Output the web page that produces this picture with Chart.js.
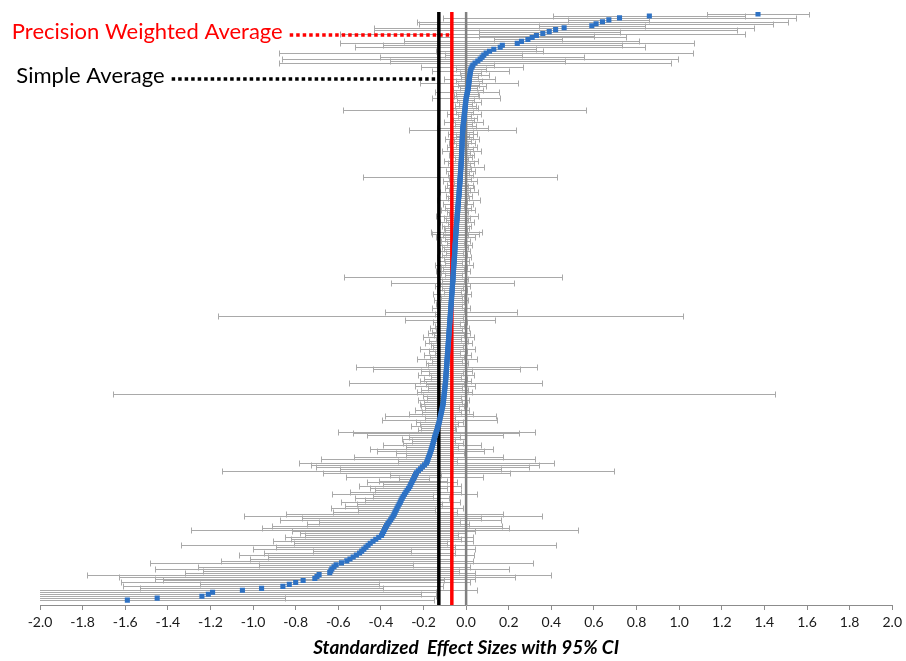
<!DOCTYPE html>
<html>
<head>
<meta charset="utf-8">
<script src="https://cdn.jsdelivr.net/npm/chart.js@4/dist/chart.umd.min.js"></script>
<style>
  html, body { margin: 0; padding: 0; background: #fff; }
  #wrap { width: 906px; height: 661px; position: relative; }
</style>
</head>
<body>
<div id="wrap"><canvas id="forest"></canvas></div>
<script>
// standardized effect sizes, sorted, top row first
const effect = [
  1.37, 0.86, 0.72, 0.67, 0.64, 0.61, 0.59, 0.46, 0.42, 0.39,
  0.36, 0.33, 0.31, 0.29, 0.26, 0.24, 0.17, 0.16, 0.13, 0.11,
  0.094, 0.083, 0.075, 0.066, 0.055, 0.042, 0.032, 0.028, 0.023, 0.020,
  0.019, 0.018, 0.016, 0.015, 0.014, 0.013, 0.012, 0.011, 0.010, 0.008,
  0.006, 0.004, 0.002,
  0.000, -0.001, -0.002, -0.003, -0.004, -0.005, -0.006, -0.007, -0.008, -0.009,
  -0.010, -0.011, -0.012, -0.013, -0.014, -0.015, -0.016,
  -0.016, -0.017, -0.017, -0.018, -0.018, -0.019, -0.019, -0.019, -0.020, -0.020,
  -0.021, -0.021, -0.021, -0.022, -0.022, -0.023, -0.023,
  -0.024, -0.024, -0.025, -0.026, -0.026, -0.027, -0.027, -0.028, -0.029, -0.029,
  -0.030, -0.031, -0.031, -0.032, -0.033, -0.033, -0.034,
  -0.035, -0.036, -0.036, -0.037, -0.038, -0.039, -0.039, -0.040, -0.041, -0.042,
  -0.042, -0.043, -0.044, -0.045, -0.045, -0.046, -0.047,
  -0.047, -0.048, -0.049, -0.049, -0.050, -0.050, -0.051, -0.052, -0.052, -0.053,
  -0.053, -0.054, -0.054, -0.055,
  -0.056, -0.056, -0.057, -0.058, -0.058, -0.059, -0.060, -0.060, -0.061, -0.061,
  -0.062, -0.062, -0.063,
  -0.064, -0.064, -0.065, -0.066, -0.066, -0.067, -0.068, -0.068, -0.069, -0.070,
  -0.070, -0.071, -0.072, -0.072, -0.073, -0.074, -0.074, -0.075,
  -0.076, -0.076, -0.077, -0.078, -0.078, -0.079, -0.080, -0.080, -0.081, -0.082,
  -0.082, -0.083, -0.084, -0.084, -0.085, -0.086,
  -0.086, -0.087, -0.088, -0.088, -0.089, -0.090, -0.090, -0.091, -0.092, -0.092,
  -0.093, -0.094, -0.094, -0.095, -0.096, -0.096, -0.097,
  -0.098, -0.099, -0.100, -0.101, -0.102, -0.103, -0.104, -0.105, -0.106, -0.107,
  -0.108,
  -0.110, -0.112, -0.114, -0.116, -0.118, -0.120, -0.122, -0.124, -0.126, -0.128,
  -0.131, -0.134, -0.136, -0.139, -0.142, -0.145, -0.148, -0.150, -0.153, -0.155,
  -0.158, -0.160, -0.163, -0.166, -0.169, -0.172, -0.176, -0.179, -0.182, -0.186,
  -0.195, -0.205, -0.214, -0.224, -0.233, -0.237, -0.242, -0.246, -0.251, -0.255,
  -0.260, -0.264, -0.270, -0.277, -0.283, -0.289, -0.295, -0.300, -0.305, -0.309,
  -0.314, -0.319, -0.324, -0.328, -0.333, -0.337, -0.342, -0.348, -0.354, -0.361,
  -0.367, -0.373, -0.378, -0.383, -0.387, -0.392, -0.397, -0.410, -0.424, -0.437,
  -0.450, -0.460, -0.470, -0.480, -0.490, -0.500, -0.515, -0.530, -0.545, -0.560,
  -0.585, -0.610, -0.620, -0.630, -0.635, -0.640, -0.690, -0.700, -0.710, -0.765,
  -0.800, -0.830, -0.860, -0.960, -1.050, -1.190, -1.210, -1.240, -1.450, -1.590
];

// half width of each 95% CI
const halfWidth = [
  0.24, 0.45, 0.83, 0.19, 0.87, 0.83, 0.25, 0.89, 0.85, 0.33,
  0.95, 0.27, 0.44, 0.16, 0.55, 0.83, 0.56, 0.68, 0.20, 0.25,
  0.97, 0.18, 0.48, 0.93, 0.41, 0.92, 0.10, 0.24, 0.07, 0.18,
  0.05, 0.09, 0.04, 0.12, 0.06, 0.23, 0.05, 0.08, 0.04, 0.07,
  0.15, 0.05, 0.06,
  0.16, 0.04, 0.07, 0.03, 0.05, 0.06, 0.57, 0.04, 0.08, 0.03,
  0.06, 0.05, 0.09, 0.04, 0.06, 0.12, 0.25, 0.05, 0.07, 0.03,
  0.05, 0.08, 0.04, 0.06, 0.03, 0.07, 0.05, 0.09, 0.04, 0.06,
  0.05, 0.03, 0.08, 0.06, 0.04, 0.11, 0.05, 0.07, 0.04, 0.06,
  0.455, 0.05, 0.08, 0.03, 0.06, 0.04, 0.07, 0.05, 0.09, 0.04,
  0.06, 0.05, 0.10, 0.04, 0.07, 0.03, 0.06, 0.08, 0.05, 0.04,
  0.10, 0.06, 0.05, 0.08, 0.04, 0.07, 0.06, 0.05, 0.12, 0.11,
  0.06, 0.09, 0.05, 0.07, 0.04, 0.08, 0.06, 0.05, 0.07, 0.04,
  0.06, 0.08, 0.05, 0.07, 0.04, 0.09, 0.06, 0.05, 0.08, 0.06,
  0.04, 0.51, 0.07, 0.05, 0.29, 0.06, 0.08, 0.05, 0.07, 0.04,
  0.09, 0.06, 0.05, 0.08, 0.06, 0.07, 0.05, 0.09, 0.06, 0.31,
  0.07, 1.09, 0.06, 0.21, 0.08, 0.05, 0.07, 0.09, 0.06, 0.08,
  0.10, 0.07, 0.12, 0.06, 0.09, 0.11, 0.08, 0.07, 0.13, 0.09,
  0.06, 0.11, 0.08, 0.14, 0.07, 0.10, 0.09, 0.425, 0.345, 0.12,
  0.08, 0.13, 0.07, 0.10, 0.12, 0.455, 0.09, 0.14, 0.08, 0.11,
  0.13, 1.555, 0.10, 0.08, 0.12, 0.09, 0.11,
  0.10, 0.08, 0.126, 0.09, 0.15, 0.26, 0.07, 0.27, 0.11, 0.09,
  0.13, 0.08, 0.09, 0.46, 0.39, 0.32, 0.12, 0.15, 0.10, 0.14,
  0.23, 0.12, 0.29, 0.25, 0.16, 0.11, 0.35, 0.50, 0.14, 0.60,
  0.535, 0.50, 0.38, 0.92, 0.44, 0.12, 0.32, 0.07, 0.16, 0.21,
  0.13, 0.24, 0.18, 0.15, 0.26, 0.34, 0.14, 0.22, 0.17, 0.28,
  0.20, 0.25, 0.31, 0.18, 0.29, 0.51, 0.70, 0.42, 0.52, 0.33,
  0.38, 0.54, 0.58, 0.91, 0.43, 0.39, 0.36, 0.44, 0.40, 0.47,
  0.36, 0.88, 0.42, 0.52, 0.23, 0.45, 0.55, 0.40, 0.47, 0.59,
  0.90, 0.36, 0.64, 0.83, 0.60, 0.68, 1.09, 0.93, 0.75, 0.66,
  0.82, 0.42, 0.75, 0.57, 1.10, 1.05, 1.00, 1.10, 0.60, 1.44
];

const xTicks = [-2.0, 2.0, 0.2]; // min, max, step
const simpleAverage = -0.128;
const weightedAverage = -0.067;

// callout placement (row units / axis units)
const weightedLabel = { text: 'Precision Weighted Average', color: '#ff0000', row: 10.7, from: -0.828 };
const simpleLabel = { text: 'Simple Average', color: '#000000', row: 33.2, from: -1.382 };

const N = effect.length;
const yMin = -1;
const yMax = N + 1.5;

const vline = (x) => [{ x: x, y: yMin }, { x: x, y: yMax }];
const hline = (lab, toX) => [{ x: lab.from, y: lab.row }, { x: toX, y: lab.row }];

// grey CI whiskers, drawn under all datasets
const errorBars = {
  id: 'errorBars',
  beforeDatasetsDraw(chart) {
    const { ctx, chartArea, scales: { x, y } } = chart;
    ctx.save();
    ctx.beginPath();
    ctx.rect(chartArea.left, chartArea.top, chartArea.width, chartArea.height);
    ctx.clip();
    ctx.strokeStyle = '#a9a9a9';
    ctx.lineWidth = 1;
    ctx.beginPath();
    effect.forEach((v, i) => {
      const py = Math.round(y.getPixelForValue(i)) + 0.5;
      const lo = Math.round(x.getPixelForValue(v - halfWidth[i])) + 0.5;
      const hi = Math.round(x.getPixelForValue(v + halfWidth[i])) + 0.5;
      ctx.moveTo(lo, py); ctx.lineTo(hi, py);
      ctx.moveTo(lo, py - 3); ctx.lineTo(lo, py + 3);
      ctx.moveTo(hi, py - 3); ctx.lineTo(hi, py + 3);
    });
    ctx.stroke();
    ctx.restore();
  }
};

// callout texts and axis title
const labels = {
  id: 'labels',
  afterDraw(chart) {
    const { ctx, scales: { x, y } } = chart;
    ctx.save();
    ctx.font = '22px Lato, "Open Sans", sans-serif';
    ctx.textAlign = 'right';
    ctx.textBaseline = 'middle';
    [weightedLabel, simpleLabel].forEach(l => {
      ctx.fillStyle = l.color;
      ctx.fillText(l.text, x.getPixelForValue(l.from) - 7, y.getPixelForValue(l.row) - 3);
    });
    ctx.font = 'italic bold 19px Lato, "Open Sans", sans-serif';
    ctx.fillStyle = '#000';
    ctx.textAlign = 'center';
    ctx.fillText('Standardized  Effect Sizes with 95% CI', x.getPixelForValue(0), chart.height - 13);
    ctx.restore();
  }
};

new Chart(document.getElementById('forest'), {
  type: 'scatter',
  data: {
    datasets: [
      {
        label: 'Effect size',
        data: effect.map((v, i) => ({ x: v, y: i })),
        pointStyle: 'rect',
        pointRadius: 3.6,
        backgroundColor: '#2e72c4',
        borderWidth: 0,
        order: 0
      },
      {
        label: 'Simple average',
        data: vline(simpleAverage),
        showLine: true, borderColor: '#000', borderWidth: 3.5, pointRadius: 0, order: 1
      },
      {
        label: 'Precision weighted average',
        data: vline(weightedAverage),
        showLine: true, borderColor: '#ff0000', borderWidth: 3.5, pointRadius: 0, order: 1
      },
      {
        label: 'Zero',
        data: vline(0),
        showLine: true, borderColor: '#808080', borderWidth: 2.5, pointRadius: 0, order: 2
      },
      {
        label: 'weighted callout',
        data: hline(weightedLabel, weightedAverage),
        showLine: true, borderColor: '#ff0000', borderWidth: 3.5, borderDash: [3.5, 3], pointRadius: 0, order: 1
      },
      {
        label: 'simple callout',
        data: hline(simpleLabel, simpleAverage),
        showLine: true, borderColor: '#000', borderWidth: 3.5, borderDash: [3.5, 3], pointRadius: 0, order: 1
      }
    ]
  },
  options: {
    responsive: true,
    maintainAspectRatio: false,
    animation: false,
    devicePixelRatio: 1,
    layout: { padding: { left: 40, right: 13, top: 12, bottom: 0 } },
    plugins: { legend: { display: false }, tooltip: { enabled: false } },
    scales: {
      x: {
        type: 'linear',
        min: xTicks[0],
        max: xTicks[1],
        afterFit: (scale) => { scale.height = 56; },
        ticks: {
          stepSize: xTicks[2],
          color: '#1a1a1a',
          font: { family: 'Lato, "Open Sans", sans-serif', size: 14 },
          padding: 4,
          callback: (v) => (Math.abs(v) < 1e-9 ? 0 : v).toFixed(1)
        },
        grid: { drawOnChartArea: false, drawTicks: true, tickLength: 5, color: '#8c8c8c' },
        border: { color: '#8c8c8c', width: 1 }
      },
      y: {
        type: 'linear',
        display: false,
        reverse: true,
        min: yMin,
        max: yMax
      }
    }
  },
  plugins: [errorBars, labels]
});
</script>
</body>
</html>
